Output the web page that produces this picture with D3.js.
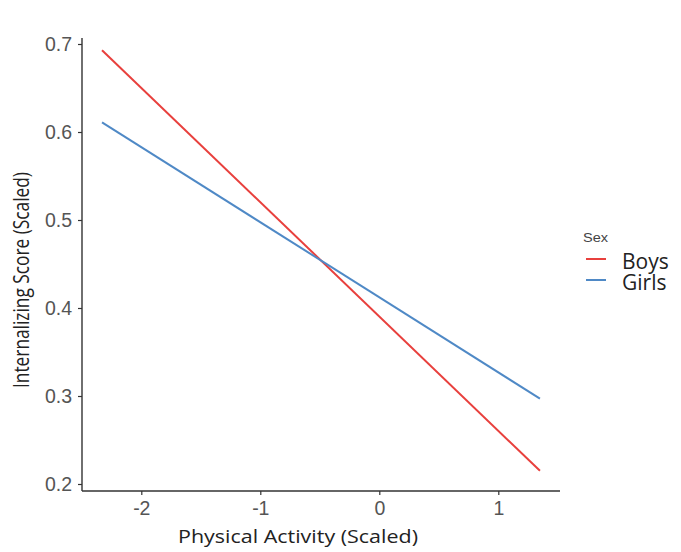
<!DOCTYPE html>
<html>
<head>
<meta charset="utf-8">
<script src="https://cdn.jsdelivr.net/npm/d3@7"></script>
<style>
  body { margin: 0; background: #fff; }
  svg { display: block; }
</style>
</head>
<body>
<div id="chart"></div>
<script>
// Data
var sexes = ['Boys', 'Girls'];
var colors = ['#e8403d', '#4f89c6'];
var activityRange = [-2.33, 1.35];
var boysScore = [0.693, 0.215];
var girlsScore = [0.611, 0.297];
var xTicks = [-2, -1, 0, 1];
var yTicks = [0.2, 0.3, 0.4, 0.5, 0.6, 0.7];

var width = 681, height = 552;

var svg = d3.select('#chart').append('svg')
    .attr('width', width)
    .attr('height', height);

// Scales
var x = d3.scaleLinear().domain([0, 1]).range([379.3, 498.3]);
var y = d3.scaleLinear().domain([0.2, 0.7]).range([484, 44]);

var panelLeft = 82, panelRight = 560, panelTop = 38, panelBottom = 491;

// Y axis
var yAxis = d3.axisLeft(y).tickValues(yTicks).tickFormat(d3.format('.1f')).tickSize(4).tickPadding(6);
var gy = svg.append('g')
    .attr('transform', 'translate(' + panelLeft + ',0)')
    .call(yAxis);
gy.select('.domain').attr('d', 'M0,' + panelTop + 'V' + panelBottom);

// X axis
var xAxis = d3.axisBottom(x).tickValues(xTicks).tickFormat(d3.format('d')).tickSize(4).tickPadding(6);
var gx = svg.append('g')
    .attr('transform', 'translate(0,' + panelBottom + ')')
    .call(xAxis);
gx.select('.domain').attr('d', 'M' + panelLeft + ',0H' + panelRight);

[gx, gy].forEach(function(g) {
    g.select('.domain').attr('stroke', '#333').attr('stroke-width', 1.4);
    g.selectAll('.tick line').attr('stroke', '#333').attr('stroke-width', 1.2);
    g.selectAll('.tick text')
        .attr('fill', '#555')
        .style('font-family', 'Liberation Sans, Arial, sans-serif')
        .style('font-size', '19.5px');
});
gx.selectAll('.tick text').text(function(d) { return d < 0 ? '-' + Math.abs(d) : d; });

// Lines
var series = [boysScore, girlsScore];
var line = d3.line()
    .x(function(d) { return x(d[0]); })
    .y(function(d) { return y(d[1]); });

series.forEach(function(s, i) {
    var pts = activityRange.map(function(a, j) { return [a, s[j]]; });
    svg.append('path')
        .datum(pts)
        .attr('d', line)
        .attr('fill', 'none')
        .attr('stroke', colors[i])
        .attr('stroke-width', 2);
});

// Axis titles
svg.append('text')
    .attr('transform', 'translate(298,543) scale(1.13,1)')
    .attr('text-anchor', 'middle')
    .attr('fill', '#222')
    .style('font-family', 'Open Sans, sans-serif')
    .style('font-size', '19px')
    .text('Physical Activity (Scaled)');

svg.append('text')
    .attr('transform', 'translate(29,280) rotate(-90) scale(1,1.27)')
    .attr('text-anchor', 'middle')
    .attr('fill', '#222')
    .style('font-family', 'Open Sans, sans-serif')
    .style('font-size', '17.3px')
    .text('Internalizing Score (Scaled)');

// Legend
var legend = svg.append('g').attr('transform', 'translate(583,0)');
legend.append('text')
    .attr('transform', 'translate(0,242) scale(1.12,1)')
    .attr('fill', '#444')
    .style('font-family', 'Liberation Sans, Arial, sans-serif')
    .style('font-size', '13px')
    .text('Sex');

sexes.forEach(function(name, i) {
    var cy = 259 + i * 21;
    legend.append('line')
        .attr('x1', 3).attr('x2', 23)
        .attr('y1', cy).attr('y2', cy)
        .attr('stroke', colors[i])
        .attr('stroke-width', 2);
    legend.append('text')
        .attr('x', 39)
        .attr('y', cy + 9.5)
        .attr('fill', '#222')
        .style('font-family', 'Open Sans, sans-serif')
        .style('font-size', '21px')
        .text(name);
});
</script>
</body>
</html>
